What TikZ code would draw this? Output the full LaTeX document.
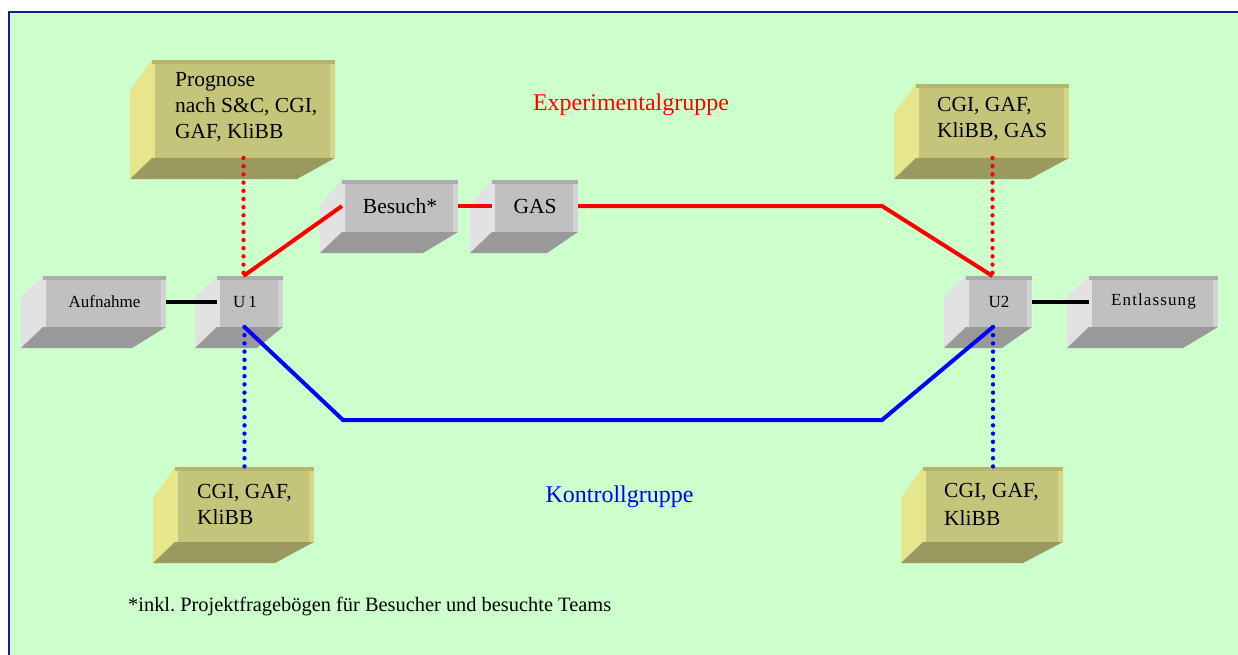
\documentclass[tikz,border=0pt]{standalone}
\usepackage{fontspec}
\setmainfont{Liberation Serif}
\usetikzlibrary{calc}
\frenchspacing
\definecolor{bg}{HTML}{CCFFCC}
\definecolor{frame}{HTML}{1A1A8C}
\definecolor{gfront}{HTML}{C0C0C0}
\definecolor{gside}{HTML}{E2E2E2}
\definecolor{gbot}{HTML}{999999}
\definecolor{gtop}{HTML}{ABABAB}
\definecolor{gright}{HTML}{D2D2D2}
\definecolor{yfront}{HTML}{C4C47A}
\definecolor{yside}{HTML}{E6E68C}
\definecolor{ybot}{HTML}{999960}
\definecolor{ytop}{HTML}{B5B56C}
\definecolor{yright}{HTML}{D6D68A}
\definecolor{lred}{HTML}{FF0000}
\definecolor{lblue}{HTML}{0000FF}
\newcommand\boxfaces[8]{% name, side, bottom, top, right, side dy, right dx, left strip
  \fill[#2] (#1.north west) -- ++(-22,#6) -- ($(#1.south west)+(-22,21)$) -- (#1.south west) -- cycle;
  \fill[#3] (#1.south west) -- (#1.south east) -- ($(#1.south east)+(#7,21)$) -- ($(#1.south west)+(-22,21)$) -- cycle;
  \fill[#4] (#1.north west) rectangle ($(#1.north east)+(0,4)$);
  \fill[#5] ($(#1.north east)+(-5,4)$) rectangle (#1.south east);
  \fill[#8] ($(#1.north west)+(0,4)$) rectangle ($(#1.south west)+(3,0)$);
}
\newcommand\grayfaces[3]{\boxfaces{#1}{gside}{gbot}{gtop}{gright}{#2}{#3}{gside}}
\newcommand\yellowfaces[3]{\boxfaces{#1}{yside}{ybot}{ytop}{yright}{#2}{#3}{yside}}
\tikzset{
  gbox/.style={fill=gfront, inner sep=0pt, outer sep=0pt, font=\fontsize{21.5}{25}\selectfont},
  gsmall/.style={gbox, font=\fontsize{17}{20}\selectfont},
  ybox/.style={fill=yfront, inner sep=0pt, outer sep=0pt},
  ytext/.style={anchor=west, inner sep=0pt, align=left, font=\fontsize{21.5}{26}\selectfont},
  solidline/.style={line width=4pt},
  dotline/.style={line width=4.4pt, line cap=round, dash pattern=on 0pt off 8.2pt},
  lbl/.style={font=\fontsize{24}{28}\selectfont, inner sep=0pt}
}
\begin{document}
\begin{tikzpicture}[x=1pt,y=-1pt]
\useasboundingbox (0,0) rectangle (1238,655);
\fill[white] (0,0) rectangle (1238,655);
\fill[bg] (8,11) rectangle (1250,670);
\draw[frame, line width=2.5pt] (9.2,670) -- (9.2,12.2) -- (1250,12.2);

% gray boxes
\node[gsmall, minimum width=123pt, minimum height=51pt] (auf) at (104.5,301.5) {Aufnahme};
\grayfaces{auf}{21}{-34}
\node[gsmall, minimum width=66pt, minimum height=51pt] (u1) at (250,301.5) {\hspace*{-10pt}U\kern3pt 1};
\grayfaces{u1}{21}{-26}
\node[gbox, minimum width=116pt, minimum height=52pt] (bes) at (400,206) {Besuch*};
\grayfaces{bes}{25}{-35}
\node[gbox, minimum width=86pt, minimum height=52pt] (gas) at (535,206) {GAS};
\grayfaces{gas}{25}{-31}
\node[gsmall, minimum width=66pt, minimum height=51pt] (u2) at (999,301.5) {U2};
\grayfaces{u2}{21}{-30}
\node[gsmall, minimum width=129pt, minimum height=51pt, text height=12pt, text depth=4pt] (ent) at (1153.5,301.5) {\addfontfeature{LetterSpace=6.5}Entlassung};
\grayfaces{ent}{21}{-35}

% yellow boxes
\node[ybox, minimum width=183pt, minimum height=98pt] (prog) at (243.5,109) {};
\yellowfaces{prog}{30}{-38}
\node[ytext] (progt) at ($(prog.west)+(23,-2)$) {Prognose\\nach S\&C, CGI,\\GAF, KliBB};
\node[ybox, minimum width=153pt, minimum height=74pt] (tr) at (992.5,121) {};
\yellowfaces{tr}{29}{-39}
\node[ytext] (trt) at ($(tr.west)+(21,-2)$) {CGI, GAF,\\KliBB, GAS};
\node[ybox, minimum width=139pt, minimum height=75pt] (bl) at (244.5,504.5) {};
\yellowfaces{bl}{31}{-39}
\node[ytext] (blt) at ($(bl.west)+(22,0)$) {CGI, GAF,\\KliBB};
\node[ybox, minimum width=140pt, minimum height=75pt] (br) at (993,504.5) {};
\yellowfaces{br}{31}{-40}
\node[ytext, font=\fontsize{21.5}{28}\selectfont] (brt) at ($(br.west)+(21,0)$) {CGI, GAF,\\KliBB};

% labels
\node[lbl, text=lred] (exp) at (631,105) {Experimentalgruppe};
\node[lbl, text=lblue] (kon) at (619.5,497) {Kontrollgruppe};
\node[font=\fontsize{20.4}{24}\selectfont, inner sep=0pt, anchor=west] (fn) at (128,607) {*inkl. Projektfragebögen für Besucher und besuchte Teams};

% bend points
\coordinate (r1) at (882,206);
\coordinate (b0) at (343,420);
\coordinate (b1) at (882,420);

% dotted links
\draw[dotline, lred] (prog.south) -- (prog.south |- u1.north);
\draw[dotline, lred] (tr.south) -- (tr.south |- u2.north);
\draw[dotline, lblue] (bl.north |- u1.south) -- (bl.north);
\draw[dotline, lblue] (br.north |- u2.south) -- (br.north);

% solid links
\draw[solidline, black] (auf.east) -- (u1.west);
\draw[solidline, black] (u2.east) -- (ent.west);
\draw[solidline, lred] (prog.south |- u1.north) -- (bes.west);
\draw[solidline, lred] (bes.east) -- (gas.west);
\draw[solidline, lred] (gas.east) -- (r1) -- (tr.south |- u2.north);
\draw[solidline, lblue] (bl.north |- u1.south) -- (b0) -- (b1) -- (br.north |- u2.south);
\end{tikzpicture}
\end{document}
